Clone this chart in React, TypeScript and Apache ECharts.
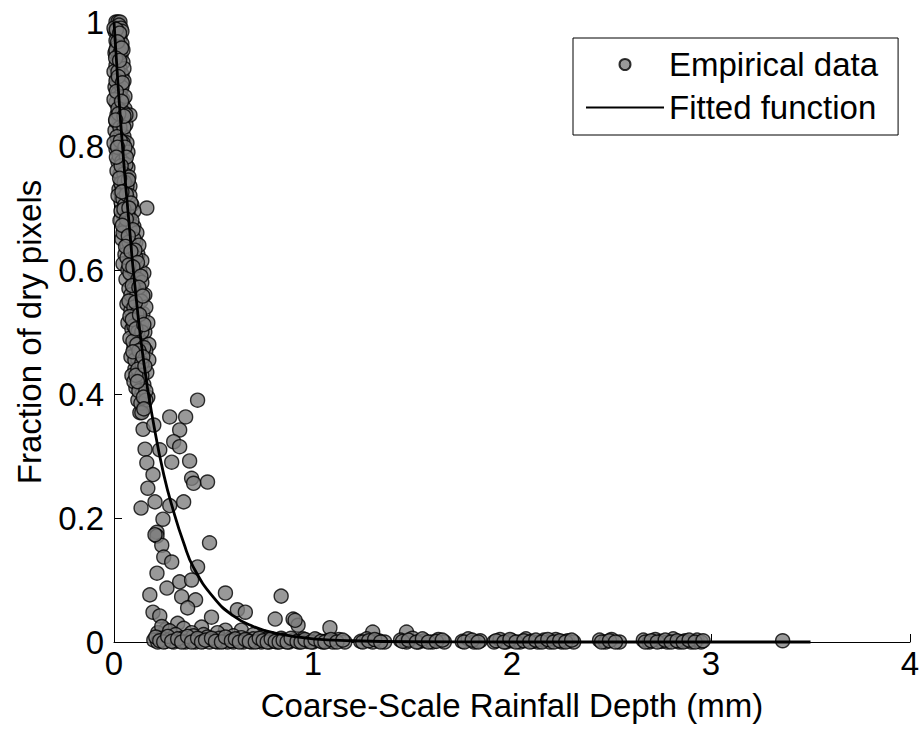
import React, { useEffect, useRef } from "react";
import * as echarts from "echarts";

const xTicks = [0, 1, 2, 3, 4];
const yTicks = [0, 0.2, 0.4, 0.6, 0.8, 1];

const xTitle = "Coarse-Scale Rainfall Depth (mm)";
const yTitle = "Fraction of dry pixels";
const scatterName = "Empirical data";
const lineName = "Fitted function";

// Dense band of empirical points (x in mm, y fraction)
const empiricalUpper: [number, number][] = [
  [0.01, 1.0], [0.02, 1.0], [0.03, 1.0], [0.015, 0.99], [0.025, 0.995], [0.005, 0.985], [0.035, 0.99],
  [0.02, 0.98], [0.01, 0.97], [0.03, 0.975], [0.04, 0.965], [0.015, 0.96], [0.025, 0.955], [0.005, 0.95],
  [0.035, 0.945], [0.02, 0.94], [0.045, 0.935], [0.01, 0.93], [0.03, 0.925], [0.04, 0.915], [0.015, 0.91],
  [0.025, 0.9], [0.05, 0.905], [0.005, 0.895], [0.035, 0.89],
  [0.02, 0.885], [0.045, 0.875], [0.01, 0.87], [0.03, 0.865], [0.055, 0.86], [0.015, 0.85], [0.04, 0.845],
  [0.025, 0.835], [0.06, 0.835], [0.005, 0.825], [0.035, 0.82], [0.05, 0.815], [0.02, 0.81], [0.065, 0.805],
  [0.04, 0.8], [0.01, 0.795], [0.03, 0.79], [0.08, 0.85],
  [0.055, 0.785], [0.02, 0.775], [0.045, 0.77], [0.07, 0.765], [0.03, 0.755], [0.06, 0.75], [0.04, 0.74],
  [0.08, 0.735], [0.025, 0.73], [0.05, 0.72], [0.07, 0.715], [0.035, 0.71], [0.09, 0.705], [0.06, 0.7],
  [0.045, 0.69], [0.08, 0.685], [0.165, 0.7],
  [0.03, 0.68], [0.07, 0.675], [0.1, 0.67], [0.05, 0.665], [0.085, 0.655], [0.04, 0.65], [0.11, 0.645],
  [0.065, 0.64], [0.095, 0.635], [0.055, 0.625], [0.12, 0.625], [0.08, 0.615], [0.045, 0.61], [0.105, 0.605],
  [0.07, 0.6], [0.13, 0.6], [0.09, 0.59], [0.06, 0.585], [0.15, 0.595], [0.14, 0.615],
  [0.11, 0.58], [0.075, 0.57], [0.13, 0.565], [0.095, 0.555], [0.065, 0.545], [0.12, 0.545], [0.085, 0.535],
  [0.145, 0.53], [0.105, 0.525], [0.07, 0.515], [0.125, 0.51], [0.09, 0.505], [0.155, 0.5], [0.11, 0.495],
  [0.08, 0.49], [0.135, 0.485], [0.175, 0.48], [0.1, 0.475], [0.16, 0.47], [0.085, 0.46], [0.12, 0.455],
  [0.145, 0.445], [0.105, 0.44], [0.165, 0.435], [0.09, 0.43], [0.13, 0.425], [0.15, 0.415], [0.11, 0.41],
  [0.14, 0.4], [0.17, 0.395], [0.12, 0.39], [0.15, 0.38], [0.13, 0.37],
];

const empiricalUpper2: [number, number][] = [
  [0.0, 0.99], [0.04, 0.985], [0.01, 0.955], [0.03, 0.95], [0.045, 0.955], [0.0, 0.92], [0.02, 0.92],
  [0.05, 0.925], [0.01, 0.905], [0.04, 0.895], [0.03, 0.88], [0.0, 0.875], [0.055, 0.88], [0.02, 0.86],
  [0.045, 0.855], [0.01, 0.84], [0.06, 0.85], [0.03, 0.83], [0.05, 0.83], [0.015, 0.815], [0.045, 0.805],
  [0.0, 0.805], [0.07, 0.79], [0.025, 0.785], [0.04, 0.775], [0.06, 0.77], [0.015, 0.76], [0.05, 0.755],
  [0.075, 0.75], [0.035, 0.74], [0.065, 0.735], [0.02, 0.72], [0.045, 0.715], [0.08, 0.72], [0.055, 0.705],
  [0.1, 0.695], [0.035, 0.695], [0.07, 0.69], [0.09, 0.68], [0.06, 0.67], [0.08, 0.665], [0.115, 0.66],
  [0.045, 0.66], [0.1, 0.65], [0.075, 0.645], [0.125, 0.64], [0.09, 0.625], [0.065, 0.62], [0.11, 0.62],
  [0.1, 0.6], [0.08, 0.595], [0.12, 0.585], [0.14, 0.58], [0.1, 0.57], [0.085, 0.56], [0.115, 0.56],
  [0.155, 0.56], [0.075, 0.55], [0.135, 0.55], [0.1, 0.54], [0.16, 0.54], [0.115, 0.53], [0.08, 0.525],
  [0.14, 0.515], [0.1, 0.51], [0.17, 0.515], [0.12, 0.5], [0.14, 0.5], [0.095, 0.485], [0.115, 0.48],
  [0.15, 0.475], [0.13, 0.465], [0.105, 0.455], [0.175, 0.455], [0.14, 0.45], [0.12, 0.44], [0.1, 0.42],
  [0.14, 0.43], [0.125, 0.405], [0.16, 0.405], [0.135, 0.385], [0.16, 0.39],
];

const empiricalUpper3: [number, number][] = [
  [0.012, 0.988], [0.028, 0.982], [0.018, 0.968], [0.038, 0.958], [0.008, 0.942], [0.028, 0.938],
  [0.022, 0.912], [0.042, 0.902], [0.012, 0.888], [0.038, 0.872], [0.024, 0.852], [0.05, 0.848],
  [0.008, 0.842], [0.032, 0.808], [0.055, 0.798], [0.018, 0.798], [0.062, 0.782], [0.036, 0.768],
  [0.012, 0.782], [0.052, 0.742], [0.072, 0.745], [0.028, 0.748], [0.062, 0.722], [0.04, 0.726],
  [0.085, 0.708], [0.05, 0.698], [0.075, 0.7], [0.062, 0.682], [0.095, 0.665], [0.042, 0.672],
  [0.072, 0.655], [0.105, 0.632], [0.058, 0.638], [0.085, 0.63], [0.118, 0.612], [0.075, 0.608],
  [0.095, 0.605], [0.135, 0.59], [0.092, 0.575], [0.125, 0.572], [0.108, 0.548], [0.145, 0.558],
  [0.092, 0.52], [0.128, 0.528], [0.11, 0.505], [0.15, 0.512], [0.125, 0.47], [0.095, 0.468],
  [0.145, 0.46], [0.11, 0.43], [0.155, 0.445], [0.118, 0.42], [0.148, 0.395], [0.14, 0.37],
];

const empiricalMiddle: [number, number][] = [
  [0.42, 0.39], [0.28, 0.363], [0.36, 0.363], [0.15, 0.376], [0.33, 0.342], [0.146, 0.343], [0.2, 0.35],
  [0.3, 0.323], [0.33, 0.315], [0.156, 0.311], [0.23, 0.31], [0.38, 0.292], [0.165, 0.289], [0.29, 0.29],
  [0.196, 0.27], [0.39, 0.264], [0.47, 0.258], [0.4, 0.256], [0.17, 0.248], [0.206, 0.226], [0.35, 0.226],
  [0.136, 0.216], [0.28, 0.22], [0.246, 0.198], [0.216, 0.177], [0.216, 0.171], [0.24, 0.156], [0.48, 0.16],
  [0.206, 0.173], [0.25, 0.137], [0.29, 0.129], [0.42, 0.121], [0.216, 0.111], [0.33, 0.097], [0.39, 0.1],
  [0.266, 0.087], [0.18, 0.076], [0.34, 0.073], [0.41, 0.068], [0.56, 0.079], [0.84, 0.074], [0.37, 0.055],
  [0.196, 0.048], [0.23, 0.042], [0.62, 0.052], [0.66, 0.048], [0.49, 0.04], [0.81, 0.037], [0.9, 0.037],
  [0.925, 0.027], [0.32, 0.03], [0.44, 0.024], [0.56, 0.019], [0.64, 0.019], [0.91, 0.035], [1.085, 0.023],
  [1.3, 0.016], [1.47, 0.016], [0.26, 0.02], [0.3, 0.012], [0.22, 0.015],
  [0.24, 0.025], [0.28, 0.018], [0.35, 0.022], [0.39, 0.015], [0.45, 0.012], [0.52, 0.015], [0.6, 0.01],
  [0.7, 0.012], [0.75, 0.008],
];

const empiricalLower: [number, number][] = [
  [0.2, 0.003], [0.22, 0.0], [0.24, 0.006], [0.26, 0.001], [0.28, 0.004], [0.3, 0.0], [0.31, 0.012],
  [0.33, 0.002], [0.35, 0.007], [0.36, 0.0], [0.38, 0.003], [0.4, 0.01], [0.41, 0.0], [0.43, 0.004],
  [0.45, 0.001], [0.47, 0.008], [0.48, 0.0], [0.5, 0.003], [0.52, 0.0], [0.53, 0.006], [0.55, 0.001],
  [0.57, 0.0], [0.58, 0.004], [0.6, 0.0], [0.62, 0.002], [0.64, 0.007], [0.65, 0.0], [0.67, 0.003],
  [0.69, 0.0], [0.7, 0.005], [0.72, 0.001], [0.74, 0.0], [0.76, 0.004], [0.78, 0.0], [0.8, 0.002],
  [0.82, 0.0], [0.84, 0.006], [0.86, 0.001], [0.88, 0.0], [0.9, 0.003], [0.93, 0.0], [0.95, 0.005],
  [0.97, 0.001], [1.0, 0.0], [1.02, 0.003], [1.05, 0.0], [1.07, 0.002], [1.1, 0.0], [1.13, 0.004],
  [1.16, 0.0], [1.24, 0.001], [1.27, 0.005], [1.3, 0.0], [1.33, 0.002], [1.36, 0.0], [1.44, 0.003],
  [1.47, 0.0], [1.5, 0.006], [1.53, 0.0], [1.56, 0.002], [1.6, 0.0], [1.63, 0.004], [1.66, 0.0],
  [1.75, 0.001], [1.78, 0.005], [1.81, 0.0], [1.84, 0.002], [1.91, 0.0], [1.94, 0.004], [1.97, 0.0],
  [2.0, 0.002], [2.04, 0.0], [2.07, 0.005], [2.1, 0.001], [2.13, 0.0], [2.16, 0.003], [2.19, 0.0],
  [2.22, 0.004], [2.25, 0.0], [2.28, 0.002], [2.31, 0.0], [2.44, 0.003], [2.47, 0.0], [2.5, 0.004],
  [2.54, 0.0], [2.66, 0.003], [2.69, 0.0], [2.72, 0.004], [2.75, 0.001], [2.78, 0.0], [2.81, 0.005],
  [2.84, 0.0], [2.87, 0.002], [2.9, 0.0], [2.93, 0.003], [2.95, 0.0], [3.36, 0.002],
];

const empiricalLower2: [number, number][] = [
  [0.21, 0.008], [0.23, 0.002], [0.25, 0.0], [0.27, 0.009], [0.29, 0.001], [0.32, 0.005], [0.34, 0.0],
  [0.37, 0.009], [0.39, 0.0], [0.42, 0.006], [0.44, 0.0], [0.46, 0.003], [0.49, 0.006], [0.51, 0.001],
  [0.54, 0.0], [0.56, 0.008], [0.59, 0.002], [0.61, 0.005], [0.63, 0.0], [0.66, 0.004], [0.68, 0.001],
  [0.71, 0.0], [0.73, 0.006], [0.75, 0.002], [0.77, 0.0], [0.79, 0.005], [0.81, 0.001], [0.83, 0.0],
  [0.85, 0.003], [0.87, 0.0], [0.89, 0.006], [0.92, 0.001], [0.94, 0.0], [0.96, 0.004], [0.99, 0.0],
  [1.01, 0.005], [1.04, 0.001], [1.06, 0.0], [1.09, 0.004], [1.12, 0.0], [1.15, 0.003], [1.25, 0.0],
  [1.28, 0.002], [1.31, 0.004], [1.34, 0.0], [1.45, 0.001], [1.48, 0.003], [1.52, 0.0], [1.55, 0.005],
  [1.58, 0.0], [1.62, 0.001], [1.65, 0.003], [1.76, 0.0], [1.8, 0.003], [1.83, 0.0], [1.92, 0.002],
  [1.96, 0.0], [1.99, 0.004], [2.02, 0.0], [2.06, 0.002], [2.09, 0.0], [2.12, 0.003], [2.15, 0.0],
  [2.18, 0.004], [2.21, 0.0], [2.24, 0.002], [2.27, 0.0], [2.3, 0.003], [2.45, 0.0], [2.49, 0.002],
  [2.52, 0.0], [2.67, 0.0], [2.7, 0.002], [2.73, 0.0], [2.77, 0.003], [2.8, 0.0], [2.83, 0.002],
  [2.86, 0.0], [2.89, 0.003], [2.92, 0.0], [2.96, 0.002],
];

// Fitted curve
const fitX = [0, 0.02, 0.05, 0.08, 0.1, 0.15, 0.2, 0.25, 0.3, 0.35, 0.4, 0.5, 0.6, 0.7, 0.8, 1.0, 1.2, 1.5, 2.0, 2.5, 3.0, 3.5];
const fitY = [1, 0.9, 0.77, 0.66, 0.59, 0.45, 0.35, 0.27, 0.21, 0.16, 0.12, 0.072, 0.042, 0.025, 0.015, 0.005, 0.002, 0.0004, 0, 0, 0, 0];

const FONT = "Liberation Sans, Arial, sans-serif";

export default function App() {
  const ref = useRef<HTMLDivElement>(null);
  useEffect(() => {
    if (!ref.current) return;
    const chart = echarts.init(ref.current, null, { renderer: "svg" });
    const scatterData = [
      ...empiricalUpper,
      ...empiricalUpper2,
      ...empiricalUpper3,
      ...empiricalMiddle,
      ...empiricalLower,
      ...empiricalLower2,
    ];
    const lineData = fitX.map((x, i) => [x, fitY[i]]);
    chart.setOption({
      animation: false,
      backgroundColor: "#ffffff",
      grid: { left: 114, top: 22, width: 796, height: 620, containLabel: false },
      legend: {
        orient: "vertical",
        left: 573,
        top: 38,
        backgroundColor: "#ffffff",
        borderColor: "#000000",
        borderWidth: 1,
        padding: [10, 20, 11, 12],
        itemGap: 10,
        itemWidth: 78,
        itemHeight: 11,
        textStyle: { fontFamily: FONT, fontSize: 33, color: "#000" },
        data: [
          { name: scatterName, icon: "circle" },
          { name: lineName, itemStyle: { opacity: 0 } },
        ],
      },
      xAxis: {
        type: "value",
        min: xTicks[0],
        max: xTicks[xTicks.length - 1],
        interval: 1,
        name: xTitle,
        nameLocation: "middle",
        nameGap: 47,
        nameTextStyle: { fontFamily: FONT, fontSize: 33, color: "#000" },
        axisLine: { show: true, onZero: false, lineStyle: { color: "#000", width: 1 } },
        axisTick: { show: true, inside: true, length: 8, lineStyle: { color: "#000" } },
        axisLabel: { fontFamily: FONT, fontSize: 33, color: "#000", margin: 5 },
        splitLine: { show: false },
      },
      yAxis: {
        type: "value",
        min: yTicks[0],
        max: yTicks[yTicks.length - 1],
        interval: 0.2,
        name: yTitle,
        nameLocation: "middle",
        nameGap: 68,
        nameTextStyle: { fontFamily: FONT, fontSize: 33, color: "#000" },
        axisLine: { show: true, onZero: false, lineStyle: { color: "#000", width: 1 } },
        axisTick: { show: true, inside: true, length: 8, lineStyle: { color: "#000" } },
        axisLabel: { fontFamily: FONT, fontSize: 33, color: "#000", margin: 10 },
        splitLine: { show: false },
      },
      series: [
        {
          name: scatterName,
          type: "scatter",
          data: scatterData,
          symbol: "circle",
          symbolSize: 14,
          clip: false,
          itemStyle: { color: "#808080", borderColor: "#000000", borderWidth: 1.4 },
        },
        {
          name: lineName,
          type: "line",
          data: lineData,
          symbol: "none",
          smooth: true,
          clip: false,
          lineStyle: { color: "#000000", width: 2.8 },
          itemStyle: { color: "#000000" },
        },
      ],
    });
    return () => chart.dispose();
  }, []);
  return (
    <div
      ref={ref}
      style={{ position: "fixed", left: 0, top: 0, width: 923, height: 729, background: "#fff" }}
    />
  );
}
